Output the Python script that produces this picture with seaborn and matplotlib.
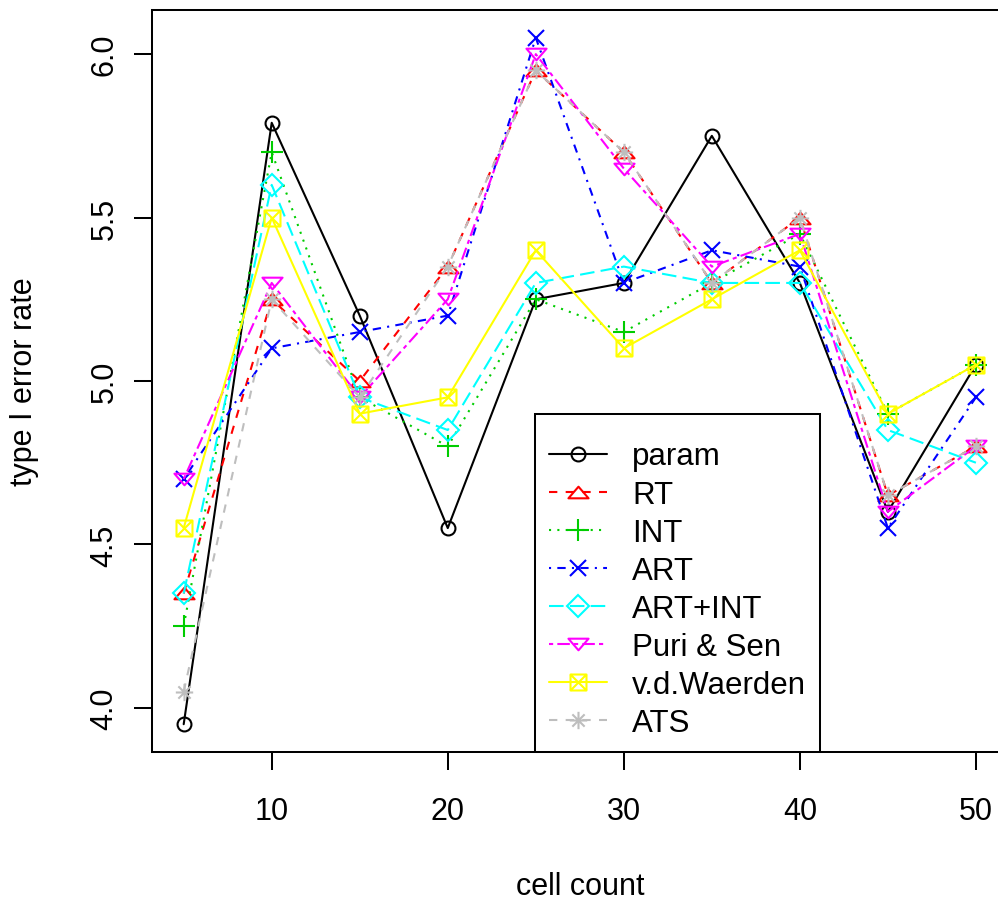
import numpy as np
import pandas as pd
import seaborn as sns
import matplotlib
matplotlib.use("Agg")
import matplotlib.pyplot as plt
from matplotlib.path import Path

# ---- data ----
cell_count = [5, 10, 15, 20, 25, 30, 35, 40, 45, 50]
param   = [3.95, 5.79, 5.20, 4.55, 5.25, 5.30, 5.75, 5.30, 4.60, 5.05]
rt      = [4.35, 5.25, 5.00, 5.35, 5.95, 5.70, 5.30, 5.50, 4.65, 4.80]
int_    = [4.25, 5.70, 4.95, 4.80, 5.25, 5.15, 5.30, 5.45, 4.90, 5.05]
art     = [4.70, 5.10, 5.15, 5.20, 6.05, 5.30, 5.40, 5.35, 4.55, 4.95]
art_int = [4.35, 5.60, 4.95, 4.85, 5.30, 5.35, 5.30, 5.30, 4.85, 4.75]
puri    = [4.70, 5.30, 4.95, 5.25, 6.00, 5.65, 5.35, 5.45, 4.60, 4.80]
vdw     = [4.55, 5.50, 4.90, 4.95, 5.40, 5.10, 5.25, 5.40, 4.90, 5.05]
ats     = [4.05, 5.25, 4.95, 5.35, 5.95, 5.70, 5.30, 5.50, 4.65, 4.80]

series_names = ["param", "RT", "INT", "ART", "ART+INT", "Puri & Sen", "v.d.Waerden", "ATS"]
series_values = [param, rt, int_, art, art_int, puri, vdw, ats]
x_ticks = [10, 20, 30, 40, 50]
y_ticks = [4.0, 4.5, 5.0, 5.5, 6.0]
y_ticklabels = ["4.0", "4.5", "5.0", "5.5", "6.0"]

# ---- styles (R defaults: col 1..8, lty 1..6,1,2, pch 1..8) ----
colors = ["black", "#FF0000", "#00CD00", "#0000FF", "#00FFFF", "#FF00FF", "#FFFF00", "#BEBEBE"]
linestyles = ["-", (0, (4, 4)), (0, (1, 3)), (0, (1, 3, 4, 3)), (0, (7, 3)),
              (0, (2, 2, 6, 2)), "-", (0, (4, 4))]

s3 = np.sqrt(3) / 2
tri_up = Path([(-1, -s3 / 1.5), (1, -s3 / 1.5), (0, s3 * 4 / 3 - s3 / 1.5), (-1, -s3 / 1.5)],
              [Path.MOVETO, Path.LINETO, Path.LINETO, Path.CLOSEPOLY])
tri_dn = Path([(-1, s3 / 1.5), (1, s3 / 1.5), (0, -(s3 * 4 / 3 - s3 / 1.5)), (-1, s3 / 1.5)],
              [Path.MOVETO, Path.LINETO, Path.LINETO, Path.CLOSEPOLY])
box_x = Path([(-1, -1), (1, -1), (1, 1), (-1, 1), (-1, -1),
              (-1, -1), (1, 1), (-1, 1), (1, -1)],
             [Path.MOVETO, Path.LINETO, Path.LINETO, Path.LINETO, Path.CLOSEPOLY,
              Path.MOVETO, Path.LINETO, Path.MOVETO, Path.LINETO])
d = np.sqrt(0.5)
asterisk = Path([(-1, 0), (1, 0), (0, -1), (0, 1), (-d, -d), (d, d), (-d, d), (d, -d)],
                [Path.MOVETO, Path.LINETO] * 4)
markers = ["o", tri_up, "+", "x", "D", tri_dn, box_x, asterisk]
msizes = [10, 14.5, 16, 12, 11, 14.5, 11.5, 12.5]

FS = 22
LFS = 22.5

# ---- figure ----
sns.set_theme(style="white")
plt.rcParams["font.family"] = ["Liberation Sans", "DejaVu Sans"]
plt.rcParams["axes.edgecolor"] = "black"

W, H = 998, 903
fig = plt.figure(figsize=(W / 100, H / 100), dpi=100)
left_px, right_px, top_px, bottom_px = 152, 1007.6, 11, 753
ax = fig.add_axes([left_px / W, (H - bottom_px) / H,
                   (right_px - left_px) / W, (bottom_px - top_px) / H])

df = pd.DataFrame({"cell count": cell_count})
for name, vals, c, ls, m, ms in zip(series_names, series_values, colors, linestyles, markers, msizes):
    df[name] = vals
    sns.lineplot(data=df, x="cell count", y=name, ax=ax, color=c, linestyle=ls,
                 marker=m, markersize=ms, markerfacecolor="none", markeredgecolor=c,
                 markeredgewidth=1.5, linewidth=1.5, label=name, errorbar=None)

ax.set_xlim(3.2, 51.8)
ax.set_ylim(3.865, 6.135)
ax.set_xticks(x_ticks)
ax.set_xticklabels([str(v) for v in x_ticks])
ax.set_yticks(y_ticks)
ax.set_yticklabels(y_ticklabels, rotation=90, va="center")
ax.tick_params(axis="both", direction="out", length=13, width=1.45, color="black",
               labelsize=FS, labelcolor="black", bottom=True, left=True)
ax.tick_params(axis="x", pad=19)
ax.tick_params(axis="y", pad=10.5)
for sp in ax.spines.values():
    sp.set_visible(True)
    sp.set_linewidth(1.45)
    sp.set_color("black")
ax.grid(False)

ax.set_xlabel("cell count", fontsize=FS, color="black")
ax.set_ylabel("type I error rate", fontsize=FS, color="black")
ax.xaxis.set_label_coords(0.5, -(887 - bottom_px) / (bottom_px - top_px))
ax.xaxis.label.set_va("center")
ax.yaxis.set_label_coords(-(left_px - 24) / (right_px - left_px), 0.5)
ax.yaxis.label.set_va("center")

leg = ax.legend(loc="lower left", bbox_to_anchor=(535 / W, (H - bottom_px) / H),
                bbox_transform=fig.transFigure, borderaxespad=0, fontsize=LFS,
                frameon=True, fancybox=False, framealpha=1, edgecolor="black",
                handlelength=1.86, handletextpad=0.8, labelspacing=0.258,
                borderpad=0.45, numpoints=1, title=" ", title_fontsize=4.5)
leg.get_frame().set_linewidth(1.45)
for t in leg.get_texts():
    t.set_color("black")

fig.savefig("out.png", dpi=100)
